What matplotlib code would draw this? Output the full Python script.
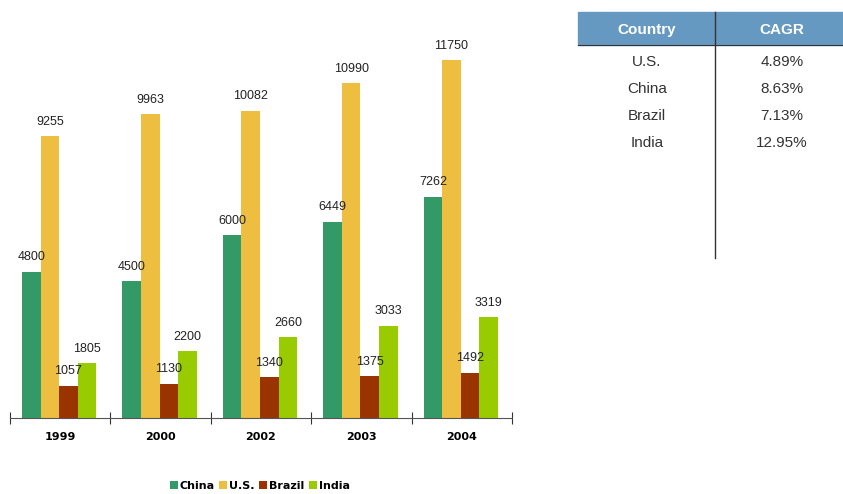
import numpy as np
import matplotlib.pyplot as plt
from matplotlib.patches import Rectangle

years = ['1999', '2000', '2002', '2003', '2004']
series = ['China', 'U.S.', 'Brazil', 'India']
china = [4800, 4500, 6000, 6449, 7262]
us = [9255, 9963, 10082, 10990, 11750]
brazil = [1057, 1130, 1340, 1375, 1492]
india = [1805, 2200, 2660, 3033, 3319]
colors = ['#339966', '#EDBE3F', '#993300', '#99CC00']

cagr_country = ['U.S.', 'China', 'Brazil', 'India']
cagr_value = ['4.89%', '8.63%', '7.13%', '12.95%']

W, H = 843, 494
fig = plt.figure(figsize=(W / 100, H / 100), dpi=100)
ax = fig.add_axes([10 / W, 1 - 418 / H, 502 / W, 398 / H])

data = [china, us, brazil, india]
x = np.arange(len(years))
bw = 0.185
for k, vals in enumerate(data):
    pos = x + 0.12 + bw / 2 + k * bw
    ax.bar(pos, vals, width=bw, color=colors[k], label=series[k])
    for p, v in zip(pos, vals):
        ax.annotate(str(v), (p, v), xytext=(0, 6), textcoords='offset points',
                    ha='center', va='bottom', fontsize=9, color='#222222',
                    family='Liberation Sans')

ax.set_xlim(0, 5)
ax.set_ylim(0, 13063)
for s in ['top', 'right', 'left']:
    ax.spines[s].set_visible(False)
ax.spines['bottom'].set_color('#555555')
ax.set_yticks([])
ax.set_xticks(np.arange(0, 6))
ax.set_xticklabels([])
ax.set_xticks(x + 0.5, minor=True)
ax.set_xticklabels(years, minor=True, fontweight='bold', fontsize=8)
ax.tick_params(axis='x', which='major', direction='inout', length=8, color='#333333')
ax.tick_params(axis='x', which='minor', length=0, pad=10)

leg = fig.legend(loc='center', bbox_to_anchor=(260 / W, 1 - 486 / H), ncol=4,
                 frameon=False, handlelength=0.7, handleheight=0.7,
                 handletextpad=0.2, columnspacing=0.4,
                 prop={'weight': 'bold', 'size': 8})

# CAGR table
def fx(px):
    return px / W

def fy(py):
    return 1 - py / H

fig.patches.append(Rectangle((fx(578), fy(45)), fx(845) - fx(578), fy(12) - fy(45),
                             transform=fig.transFigure, color='#6699C2', zorder=0))
fig.add_artist(plt.Line2D([fx(715), fx(715)], [fy(12), fy(258)], color='#333333', lw=1))
fig.add_artist(plt.Line2D([fx(578), fx(845)], [fy(45), fy(45)], color='#333333', lw=0.8))
fig.text(fx(647), fy(30), 'Country', color='white', fontsize=11, fontweight='bold',
         family='Liberation Sans', ha='center', va='center')
fig.text(fx(782), fy(30), 'CAGR', color='white', fontsize=11, fontweight='bold',
         family='Liberation Sans', ha='center', va='center')
for i, (c, v) in enumerate(zip(cagr_country, cagr_value)):
    yy = fy(62 + i * 27)
    fig.text(fx(647), yy, c, color='#333333', fontsize=11, family='Liberation Sans',
             ha='center', va='center')
    fig.text(fx(782), yy, v, color='#333333', fontsize=11, family='Liberation Sans',
             ha='center', va='center')

fig.savefig('out.png', dpi=100)
